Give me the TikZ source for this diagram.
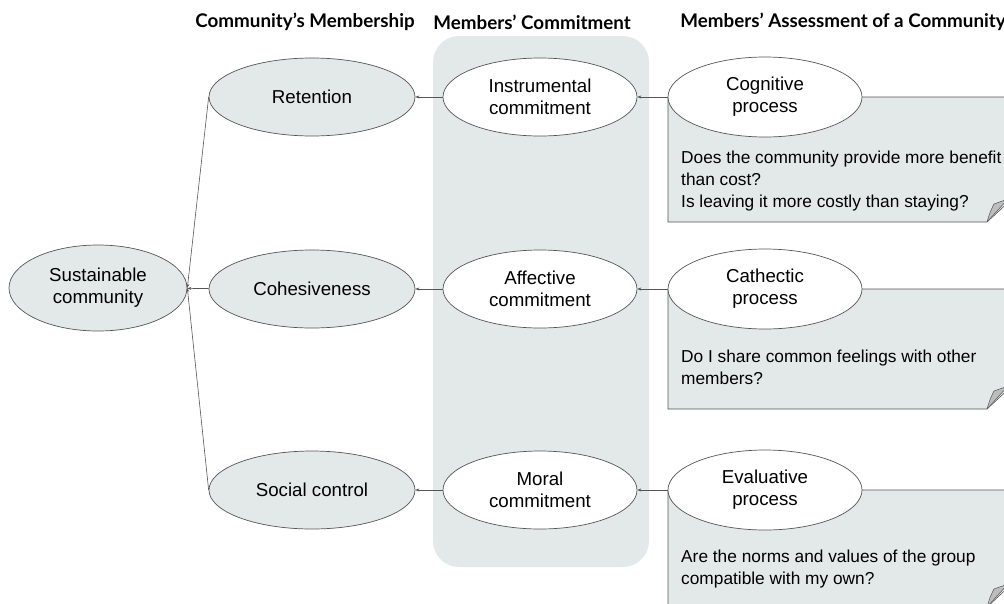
\documentclass[tikz,border=0pt]{standalone}
\usepackage{fontspec}
\setmainfont{Liberation Sans}
\newfontfamily\headfont{Lato}
\usetikzlibrary{positioning,shapes.geometric,arrows.meta}
\definecolor{panegrey}{HTML}{E3E9E9}
\definecolor{linegrey}{HTML}{555555}
\definecolor{foldgrey}{HTML}{BDBDBD}

\begin{document}
\begin{tikzpicture}[x=1pt,y=-1pt,
  goal/.style={ellipse,draw=linegrey,line width=0.7pt,fill=panegrey,minimum width=206pt,minimum height=78pt,inner sep=0pt,align=center,font=\fontsize{18.7}{22}\selectfont},
  bond/.style={goal,fill=white,minimum width=194pt},
  proc/.style={goal,fill=white,minimum width=194pt,minimum height=80pt},
  head/.style={font=\headfont\bfseries\fontsize{18.8}{22}\selectfont},
  note/.style={fill=panegrey,draw=linegrey,line width=0.6pt},
  fold/.style={fill=foldgrey,draw=linegrey,line width=0.5pt,line join=round},
  asks/.style={anchor=north west,align=left,inner sep=0pt,font=\fontsize{17.3}{22}\selectfont},
  feeds/.style={draw=linegrey,line width=0.6pt,-{Stealth[length=4pt,width=3pt]}}]

  \useasboundingbox (0,0) rectangle (1004,603);

  \node[head] (hmem) at (305,22) {Community’s Membership};
  \node[head] (hcom) at (532,22) {Members’ Commitment};
  \node[head] (hass) at (843,22) {Members’ Assessment of a Community};

  \fill[panegrey,rounded corners=26pt] (433,36) rectangle (649,567);

  % notes behind the process ellipses
  \draw[note] (668,97) -- (1012,97) -- (1012,199) -- (987,222) -- (668,222) -- cycle;
  \draw[fold] (987,222) .. controls (990,212) .. (994,204) -- (1008,199) -- cycle;
  \draw[note] (668,289) -- (1012,289) -- (1012,386) -- (987,409) -- (668,409) -- cycle;
  \draw[fold] (987,409) .. controls (990,399) .. (994,391) -- (1008,386) -- cycle;
  \draw[note] (668,490) -- (1012,490) -- (1012,584) -- (987,607) -- (668,607) -- cycle;
  \draw[fold] (987,607) .. controls (990,597) .. (994,589) -- (1008,584) -- cycle;

  \node[asks] (qcog) at (681,151) {Does the community provide more benefit\\than cost?\\Is leaving it more costly than staying?};
  \node[asks] (qcat) at (681,350) {Do I share common feelings with other\\members?};
  \node[asks] (qeva) at (681,550) {Are the norms and values of the group\\compatible with my own?};

  \node[goal,minimum width=178pt,minimum height=86pt] (sus) at (98,288) {Sustainable\\community};

  \node[goal] (ret) at (312,97) {Retention};
  \node[goal] (coh) at (312,289) {Cohesiveness};
  \node[goal] (soc) at (312,490) {Social control};

  \node[bond] (ins) at (540,97) {Instrumental\\commitment};
  \node[bond] (aff) at (540,289) {Affective\\commitment};
  \node[bond] (mor) at (540,490) {Moral\\commitment};

  \node[proc] (cog) at (765,97) {Cognitive\\process};
  \node[proc] (cat) at (765,289) {Cathectic\\process};
  \node[proc] (eva) at (765,490) {Evaluative\\process};

  \draw[feeds] (cog) -- (ins);
  \draw[feeds] (cat) -- (aff);
  \draw[feeds] (eva) -- (mor);
  \draw[feeds] (ins) -- (ret);
  \draw[feeds] (aff) -- (coh);
  \draw[feeds] (mor) -- (soc);
  \draw[feeds] (ret.west) -- (sus.east);
  \draw[feeds] (coh) -- (sus);
  \draw[feeds] (soc.west) -- (sus.east);
\end{tikzpicture}
\end{document}
